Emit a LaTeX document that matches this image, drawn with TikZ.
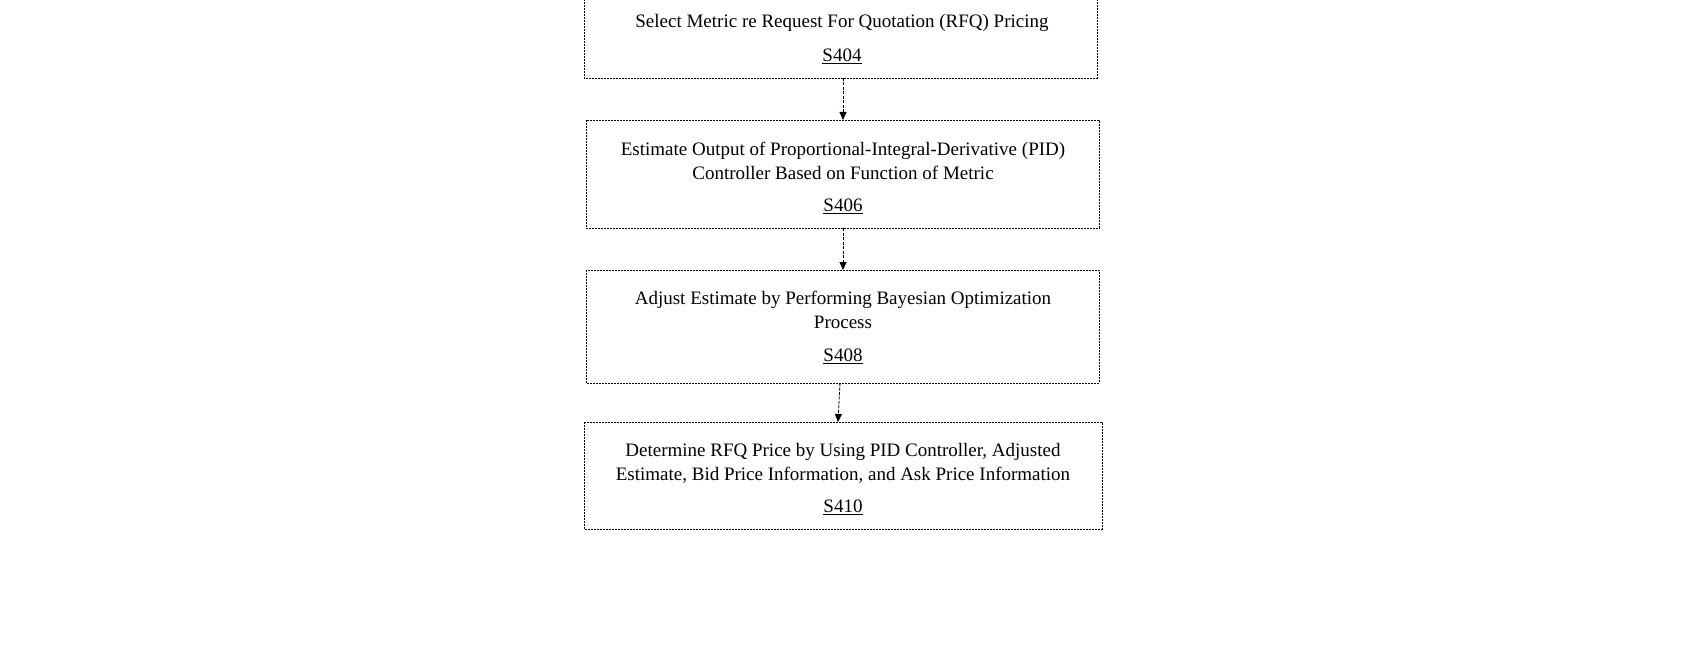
\documentclass[tikz,border=0pt]{standalone}
\usepackage{fontspec}
\setmainfont{Liberation Serif}
\usetikzlibrary{arrows.meta}
\begin{document}
\begin{tikzpicture}[x=1pt,y=-1pt,
  boxst/.style={draw,line width=0.8pt,dash pattern=on 2pt off 1pt},
  txt/.style={font=\fontsize{19}{24}\selectfont,align=center,inner sep=0},
  arr/.style={draw,line width=0.9pt,dash pattern=on 3pt off 1.5pt,-{Triangle[length=8pt,width=7pt]}}]
\useasboundingbox (0,0) rectangle (1700,650);
\draw[boxst] (584,-10) rectangle (1097,78);
\draw[boxst] (586,120) rectangle (1099,228);
\draw[boxst] (586,270) rectangle (1099,383);
\draw[boxst] (584,422) rectangle (1102,529);
\coordinate (b1) at (843,78); \coordinate (t2) at (843,120);
\coordinate (b2) at (843,228); \coordinate (t3) at (843,270);
\coordinate (b3) at (840,383); \coordinate (t4) at (838,422);
\node[txt] (l1) at (842,23) {Select Metric re Request For Quotation (RFQ) Pricing};
\node[txt] (s1) at (842,56) {\underline{S404}};
\node[txt] (l2) at (843,161) {Estimate Output of Proportional-Integral-Derivative (PID)\\Controller Based on Function of Metric};
\node[txt] (s2) at (843,206) {\underline{S406}};
\node[txt] (l3) at (843,310) {Adjust Estimate by Performing Bayesian Optimization\\Process};
\node[txt] (s3) at (843,356) {\underline{S408}};
\node[txt] (l4) at (843,463) {Determine RFQ Price by Using PID Controller, Adjusted\\Estimate, Bid Price Information, and Ask Price Information};
\node[txt] (s4) at (843,507) {\underline{S410}};
\draw[arr] (b1) -- (t2);
\draw[arr] (b2) -- (t3);
\draw[arr] (b3) -- (t4);
\end{tikzpicture}
\end{document}
